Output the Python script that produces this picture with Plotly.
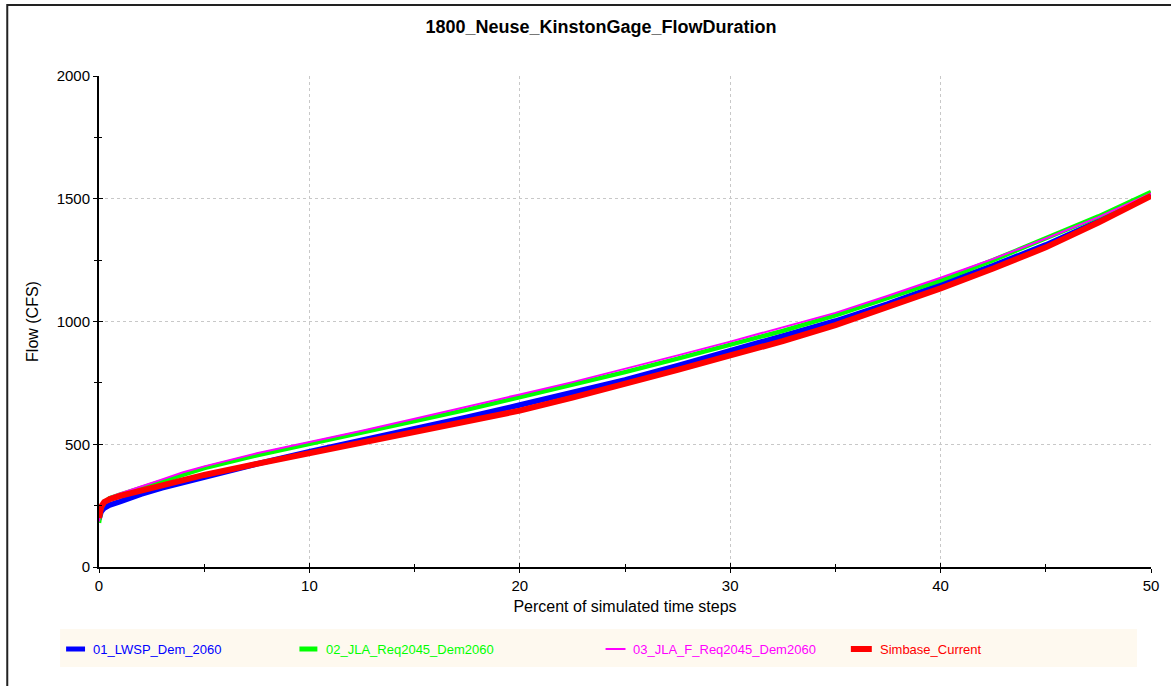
import plotly.graph_objects as go

# Exceedance percentage (x) and flow values (cfs) for each scenario
pct = [0, 0.1, 0.25, 0.5, 1, 2, 3, 4, 5, 7.5, 10, 12.5, 15, 17.5, 20, 22.5,
       25, 27.5, 30, 32.5, 35, 37.5, 40, 42.5, 45, 47.5, 50]

lwsp_dem_2060 = [195, 225, 240, 252, 266, 297, 322, 345, 366, 420, 470, 515,
                 563, 610, 660, 710, 762, 820, 880, 938, 1002, 1072, 1148,
                 1228, 1312, 1408, 1515]
jla_req2045_dem2060 = [180, 238, 262, 280, 295, 322, 352, 380, 403, 455, 500,
                       545, 594, 641, 691, 741, 794, 849, 904, 962, 1025, 1095,
                       1168, 1250, 1340, 1428, 1527]
jla_f_req2045_dem2060 = [185, 240, 265, 284, 300, 327, 357, 386, 410, 463, 508,
                         555, 604, 652, 703, 753, 806, 862, 918, 975, 1035,
                         1105, 1178, 1255, 1338, 1425, 1522]
simbase_current = [200, 245, 265, 276, 290, 312, 336, 356, 375, 420, 463, 503,
                   550, 594, 637, 690, 745, 803, 862, 920, 985, 1058, 1135,
                   1216, 1302, 1403, 1512]

series_names = ["01_LWSP_Dem_2060", "02_JLA_Req2045_Dem2060",
                "03_JLA_F_Req2045_Dem2060", "Simbase_Current"]
series_values = [lwsp_dem_2060, jla_req2045_dem2060,
                 jla_f_req2045_dem2060, simbase_current]
series_colors = ["#0000FF", "#00FF00", "#FF00FF", "#FF0000"]
series_widths = [5.5, 4.5, 2, 6]

x_ticks = [0, 10, 20, 30, 40, 50]
y_ticks = [0, 500, 1000, 1500, 2000]

FONT = "Liberation Sans, Arial, sans-serif"
W, H = 1171, 686
L, R, T, B = 99, 17, 76, 119
PW, PH = W - L - R, H - T - B


def px_x(px):
    return (px - L) / PW


def px_y(py):
    return (H - B - py) / PH


fig = go.Figure()
for name, vals, col, lw in zip(series_names, series_values, series_colors, series_widths):
    fig.add_trace(go.Scatter(x=pct, y=vals, mode="lines", name=name,
                             line=dict(color=col, width=lw),
                             showlegend=False))

# empty trace so the overlay axes (inner tick marks) get drawn
fig.add_trace(go.Scatter(x=[None], y=[None], xaxis="x2", yaxis="y2",
                         showlegend=False, hoverinfo="skip"))

axis_common = dict(showline=True, linecolor="black", linewidth=2,
                   tickcolor="black", tickwidth=1, ticklen=4, zeroline=False,
                   tickfont=dict(family=FONT, size=15, color="black"))

fig.update_layout(
    width=W, height=H,
    margin=dict(l=L, r=R, t=T, b=B),
    paper_bgcolor="white", plot_bgcolor="white",
    title=dict(text="<b>1800_Neuse_KinstonGage_FlowDuration</b>",
               font=dict(family=FONT, size=18, color="black"),
               xref="container", x=601 / W, xanchor="center",
               yref="container", y=1 - 27 / H, yanchor="middle"),
    xaxis=dict(range=[0, 50], tickvals=x_ticks, ticks="outside",
               showgrid=True, gridcolor="#C8C8C8", griddash="3px,3px", gridwidth=1,
               minor=dict(tickvals=[5, 15, 25, 35, 45], ticks="outside",
                          ticklen=3, tickcolor="black"),
               title=dict(text="Percent of simulated time steps",
                          font=dict(family=FONT, size=16, color="black"),
                          standoff=8),
               **axis_common),
    yaxis=dict(range=[0, 2000], tickvals=y_ticks, ticks="outside",
               showgrid=True, gridcolor="#C8C8C8", griddash="3px,3px", gridwidth=1,
               minor=dict(tickvals=[250, 750, 1250, 1750], ticks="outside",
                          ticklen=3, tickcolor="black"),
               title=dict(text="Flow (CFS)",
                          font=dict(family=FONT, size=16, color="black"),
                          standoff=14),
               **axis_common),
    xaxis2=dict(overlaying="x", matches="x", range=[0, 50], tickvals=x_ticks,
                ticks="inside", ticklen=4, tickcolor="black",
                minor=dict(tickvals=[5, 15, 25, 35, 45], ticks="inside",
                           ticklen=3, tickcolor="black"),
                showticklabels=False, showgrid=False, showline=False,
                zeroline=False, anchor="y"),
    yaxis2=dict(overlaying="y", matches="y", range=[0, 2000], tickvals=y_ticks,
                ticks="inside", ticklen=4, tickcolor="black",
                minor=dict(tickvals=[250, 750, 1250, 1750], ticks="inside",
                           ticklen=3, tickcolor="black"),
                showticklabels=False, showgrid=False, showline=False,
                zeroline=False, anchor="x", side="left"),
)

shapes = [
    # outer frame
    dict(type="rect", xref="paper", yref="paper",
         x0=px_x(7), x1=px_x(1190), y0=px_y(700), y1=px_y(5),
         line=dict(color="#222222", width=2), fillcolor="rgba(0,0,0,0)", layer="below"),
    # legend panel
    dict(type="rect", xref="paper", yref="paper",
         x0=px_x(60), x1=px_x(1140), y0=px_y(667), y1=px_y(629),
         line=dict(width=0), fillcolor="#FEF9EF", layer="below"),
]

legend_line_x = [(66, 85), (300, 318), (607, 627), (853, 874)]
legend_text_x = [91, 325, 633, 880]
legend_line_w = [5, 5, 2, 6]
legend_y = 649
annotations = []
for name, col, (lx0, lx1), tx, lw in zip(series_names, series_colors,
                                         legend_line_x, legend_text_x, legend_line_w):
    shapes.append(dict(type="line", xref="paper", yref="paper",
                       x0=px_x(lx0), x1=px_x(lx1), y0=px_y(legend_y), y1=px_y(legend_y),
                       line=dict(color=col, width=lw)))
    annotations.append(dict(text=name, xref="paper", yref="paper",
                            x=px_x(tx), y=px_y(legend_y), xanchor="left", yanchor="middle",
                            showarrow=False,
                            font=dict(family=FONT, size=13, color=col)))

fig.update_layout(shapes=shapes, annotations=annotations)

fig.write_html("out.html")
